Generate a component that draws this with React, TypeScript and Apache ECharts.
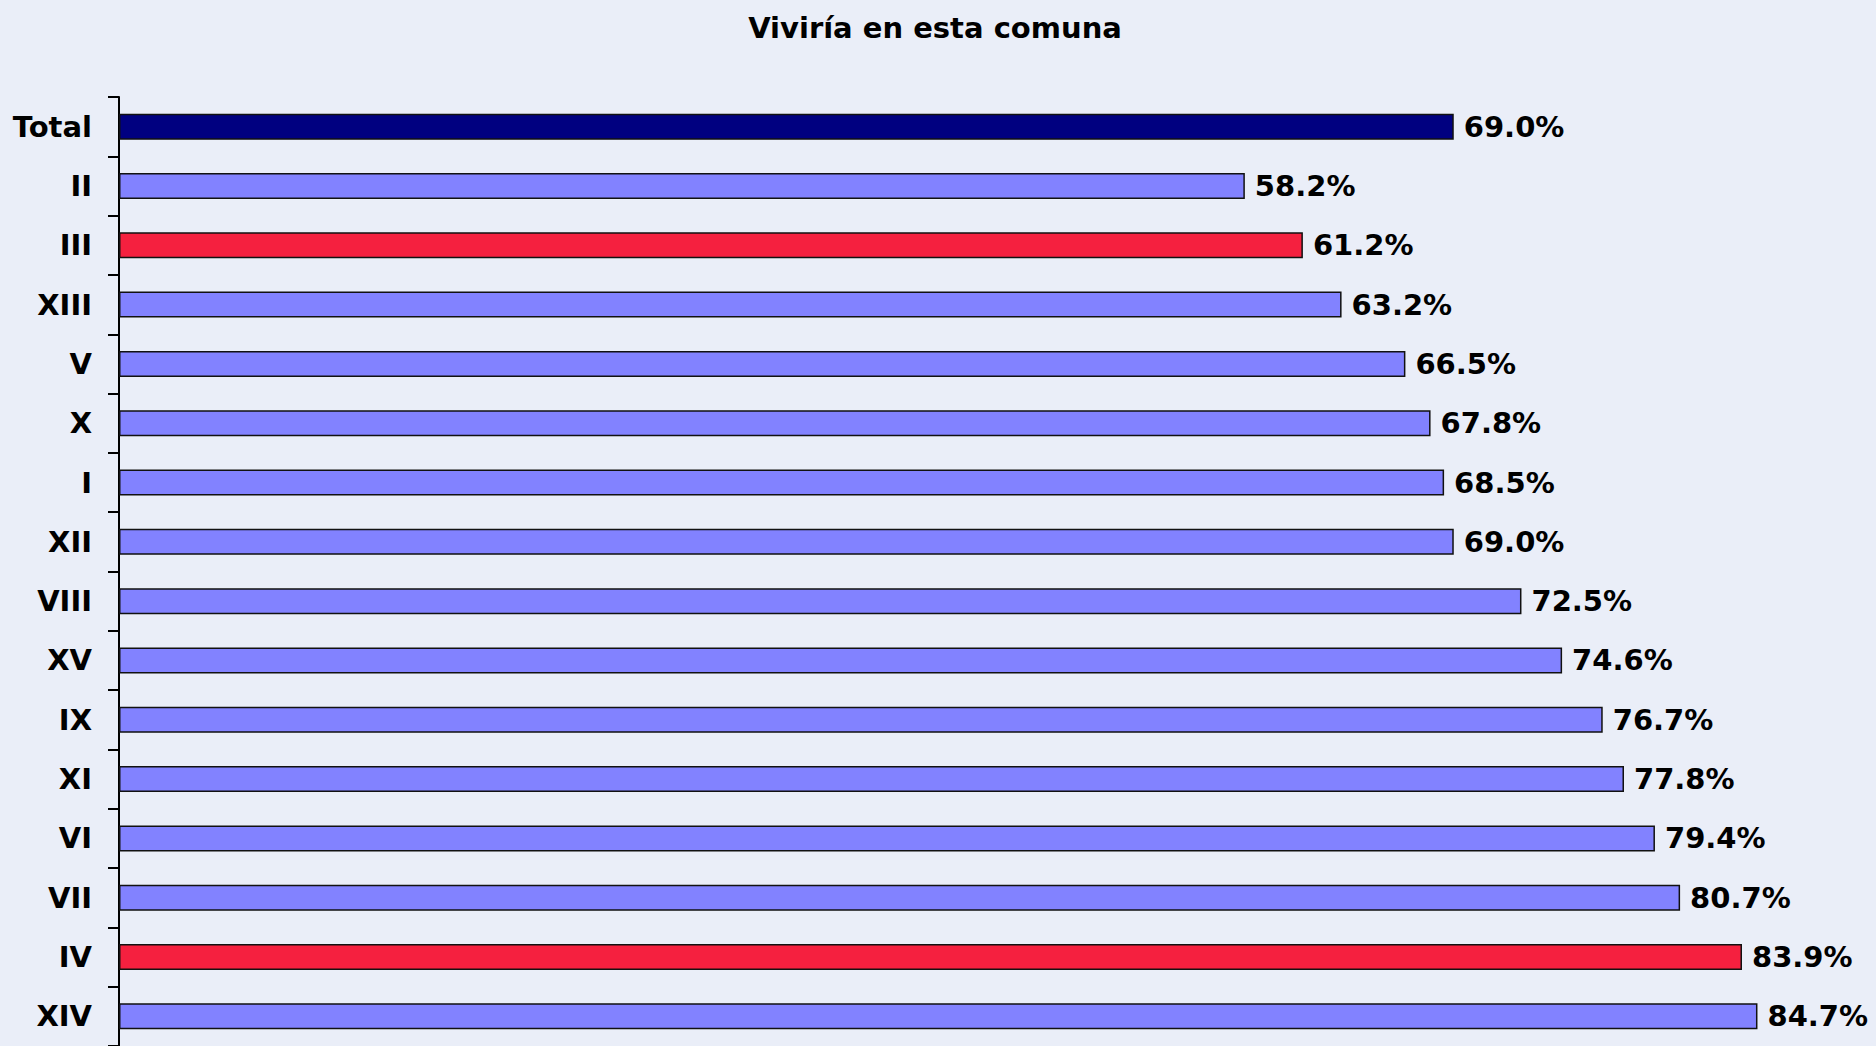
import React, { useEffect, useRef } from "react";
import * as echarts from "echarts";

const categories = ["Total", "II", "III", "XIII", "V", "X", "I", "XII", "VIII", "XV", "IX", "XI", "VI", "VII", "IV", "XIV"];
const values = [69.0, 58.2, 61.2, 63.2, 66.5, 67.8, 68.5, 69.0, 72.5, 74.6, 76.7, 77.8, 79.4, 80.7, 83.9, 84.7];
const highlightRed = ["III", "IV"];
const totalLabel = "Total";
const titleText = "Viviría en esta comuna";

export default function App() {
  const ref = useRef<HTMLDivElement>(null);
  useEffect(() => {
    document.body.style.margin = "0";
    const chart = echarts.init(ref.current!, null, { renderer: "svg" });
    const data = values.map((v, i) => {
      const c = categories[i];
      let color = "#8282FF";
      if (c === totalLabel) color = "#000080";
      else if (highlightRed.includes(c)) color = "#F5203F";
      return { value: v, itemStyle: { color } };
    });
    chart.setOption({
      animation: false,
      backgroundColor: "#EAEEF8",
      title: {
        text: titleText,
        left: 930,
        top: 8,
        textAlign: "center",
        textStyle: { fontFamily: "DejaVu Sans", fontWeight: "bold", fontSize: 29, color: "#000" },
      },
      grid: { left: 119, top: 97, height: 952, width: 1741 },
      xAxis: {
        type: "value",
        min: 0,
        max: 90,
        show: false,
      },
      yAxis: {
        type: "category",
        data: categories,
        inverse: true,
        axisLine: { show: true, lineStyle: { color: "#000", width: 2 } },
        axisTick: { show: true, length: 11, lineStyle: { color: "#000", width: 2 } },
        axisLabel: {
          fontFamily: "DejaVu Sans",
          fontWeight: "bold",
          fontSize: 29,
          color: "#000",
          margin: 27,
        },
      },
      series: [
        {
          type: "bar",
          data,
          barWidth: 26,
          itemStyle: { borderColor: "#111", borderWidth: 1.5 },
          label: {
            show: true,
            position: "right",
            distance: 10,
            formatter: (p: any) => p.value.toFixed(1) + "%",
            fontFamily: "DejaVu Sans",
            fontWeight: "bold",
            fontSize: 29,
            color: "#000",
          },
        },
      ],
    });
    return () => chart.dispose();
  }, []);
  return <div ref={ref} style={{ width: 1876, height: 1046 }} />;
}
